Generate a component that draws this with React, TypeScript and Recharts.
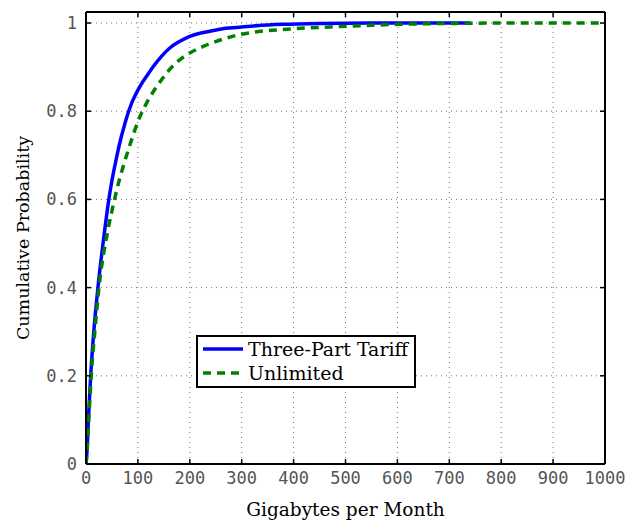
import React from 'react';
import {
  LineChart, Line, XAxis, YAxis, CartesianGrid, Legend, Label,
} from 'recharts';

// Gigabytes per month (x) and cumulative probability (y)
const TARIFF_GB = [0, 2, 5, 9, 15, 23, 36, 44, 50, 58, 68, 75, 80, 85, 90, 100, 109, 120, 130, 145, 162, 180, 200, 220, 245, 270, 290, 329, 380, 450, 550, 740];
const TARIFF_P = [0, 0.03, 0.11, 0.2, 0.3, 0.4, 0.53, 0.6, 0.643, 0.69, 0.742, 0.772, 0.792, 0.809, 0.824, 0.848, 0.866, 0.885, 0.902, 0.924, 0.944, 0.958, 0.97, 0.977, 0.983, 0.988, 0.99, 0.994, 0.997, 0.999, 1, 1];

const UNLIMITED_GB = [0, 2, 6, 10, 17, 25, 42, 54, 60, 71, 85, 103, 117, 130, 146, 160, 181, 200, 226, 250, 271, 297, 322, 374, 430, 490, 550, 600, 700, 800, 1000];
const UNLIMITED_P = [0, 0.03, 0.115, 0.2, 0.3, 0.4, 0.529, 0.595, 0.625, 0.672, 0.725, 0.785, 0.819, 0.845, 0.872, 0.893, 0.917, 0.932, 0.947, 0.958, 0.966, 0.974, 0.979, 0.985, 0.989, 0.992, 0.995, 0.997, 0.999, 1, 1];

const X_TICKS = [0, 100, 200, 300, 400, 500, 600, 700, 800, 900, 1000];
const Y_TICKS = [0, 0.2, 0.4, 0.6, 0.8, 1];

const SERIES = [
  { name: 'Three-Part Tariff', color: '#0000ff', dash: undefined },
  { name: 'Unlimited', color: '#008000', dash: '8 6' },
];

const tariff = TARIFF_GB.map((gb, i) => ({ gb, p: TARIFF_P[i] }));
const unlimited = UNLIMITED_GB.map((gb, i) => ({ gb, p: UNLIMITED_P[i] }));

const SERIF = '"DejaVu Serif", serif';
const MONO = '"DejaVu Sans Mono", monospace';
const tickStyle = { fontSize: 17, fill: '#555', fontFamily: MONO };
const frame = { stroke: '#000', strokeWidth: 2 };
const tickMark = { stroke: '#000', strokeWidth: 1.5 };

function LegendBox() {
  return (
    <div
      style={{
        border: '2px solid #000',
        background: '#fff',
        padding: '0px 6px 1px 5px',
        fontFamily: SERIF,
        fontSize: 19,
        lineHeight: '24px',
        color: '#000',
      }}
    >
      {SERIES.map((s) => (
        <div key={s.name} style={{ display: 'flex', alignItems: 'center', whiteSpace: 'nowrap' }}>
          <svg width={40} height={10} style={{ marginRight: 5 }}>
            <line x1={0} y1={5} x2={40} y2={5} stroke={s.color} strokeWidth={3.5} strokeDasharray={s.dash} />
          </svg>
          {s.name}
        </div>
      ))}
    </div>
  );
}

export default function App() {
  return (
    <div style={{ position: 'absolute', left: 0, top: 0, width: 628, height: 522, background: '#fff' }}>
      <LineChart width={628} height={522} margin={{ top: 11, right: 22, bottom: 0, left: 0 }}>
        <CartesianGrid
          xAxisId="bottom"
          yAxisId="left"
          stroke="#777"
          strokeDasharray="1 4"
          horizontalValues={Y_TICKS}
          verticalValues={X_TICKS}
        />
        <XAxis
          xAxisId="bottom"
          dataKey="gb"
          type="number"
          domain={[0, 1000]}
          ticks={X_TICKS}
          allowDataOverflow
          height={58}
          tickSize={-5}
          tickMargin={13}
          tick={tickStyle}
          axisLine={frame}
          tickLine={tickMark}
        >
          <Label value="Gigabytes per Month" position="center" dy={16} style={{ fontFamily: SERIF, fontSize: 18.5, fill: '#000' }} />
        </XAxis>
        <XAxis
          xAxisId="top"
          orientation="top"
          dataKey="gb"
          type="number"
          domain={[0, 1000]}
          ticks={X_TICKS}
          allowDataOverflow
          height={1}
          tickSize={-5}
          tickFormatter={() => ''}
          axisLine={frame}
          tickLine={tickMark}
        />
        <YAxis
          yAxisId="left"
          type="number"
          domain={[0, 1.025]}
          ticks={Y_TICKS}
          allowDataOverflow
          width={86}
          tickSize={-5}
          tickMargin={14}
          tick={tickStyle}
          axisLine={frame}
          tickLine={tickMark}
        >
          <Label value="Cumulative Probability" position="center" angle={-90} dx={-20} style={{ fontFamily: SERIF, fontSize: 17.5, fill: '#000', textAnchor: 'middle' }} />
        </YAxis>
        <YAxis
          yAxisId="right"
          orientation="right"
          type="number"
          domain={[0, 1.025]}
          ticks={Y_TICKS}
          allowDataOverflow
          width={1}
          tickSize={-5}
          tickFormatter={() => ''}
          axisLine={frame}
          tickLine={tickMark}
        />
        <Line
          xAxisId="bottom"
          yAxisId="left"
          data={tariff}
          dataKey="p"
          name={SERIES[0].name}
          type="monotone"
          stroke={SERIES[0].color}
          strokeWidth={3.5}
          dot={false}
          isAnimationActive={false}
        />
        <Line
          xAxisId="bottom"
          yAxisId="left"
          data={unlimited}
          dataKey="p"
          name={SERIES[1].name}
          type="monotone"
          stroke={SERIES[1].color}
          strokeWidth={3.5}
          strokeDasharray={SERIES[1].dash}
          dot={false}
          isAnimationActive={false}
        />
        {/* invisible series so the top and right frame axes get drawn */}
        <Line xAxisId="top" yAxisId="right" data={tariff} dataKey="p" stroke="none" dot={false} legendType="none" isAnimationActive={false} />
        <Legend
          layout="vertical"
          align="center"
          verticalAlign="middle"
          content={() => <LegendBox />}
          wrapperStyle={{ position: 'absolute', left: 196, top: 335, width: 'auto' }}
        />
      </LineChart>
    </div>
  );
}
